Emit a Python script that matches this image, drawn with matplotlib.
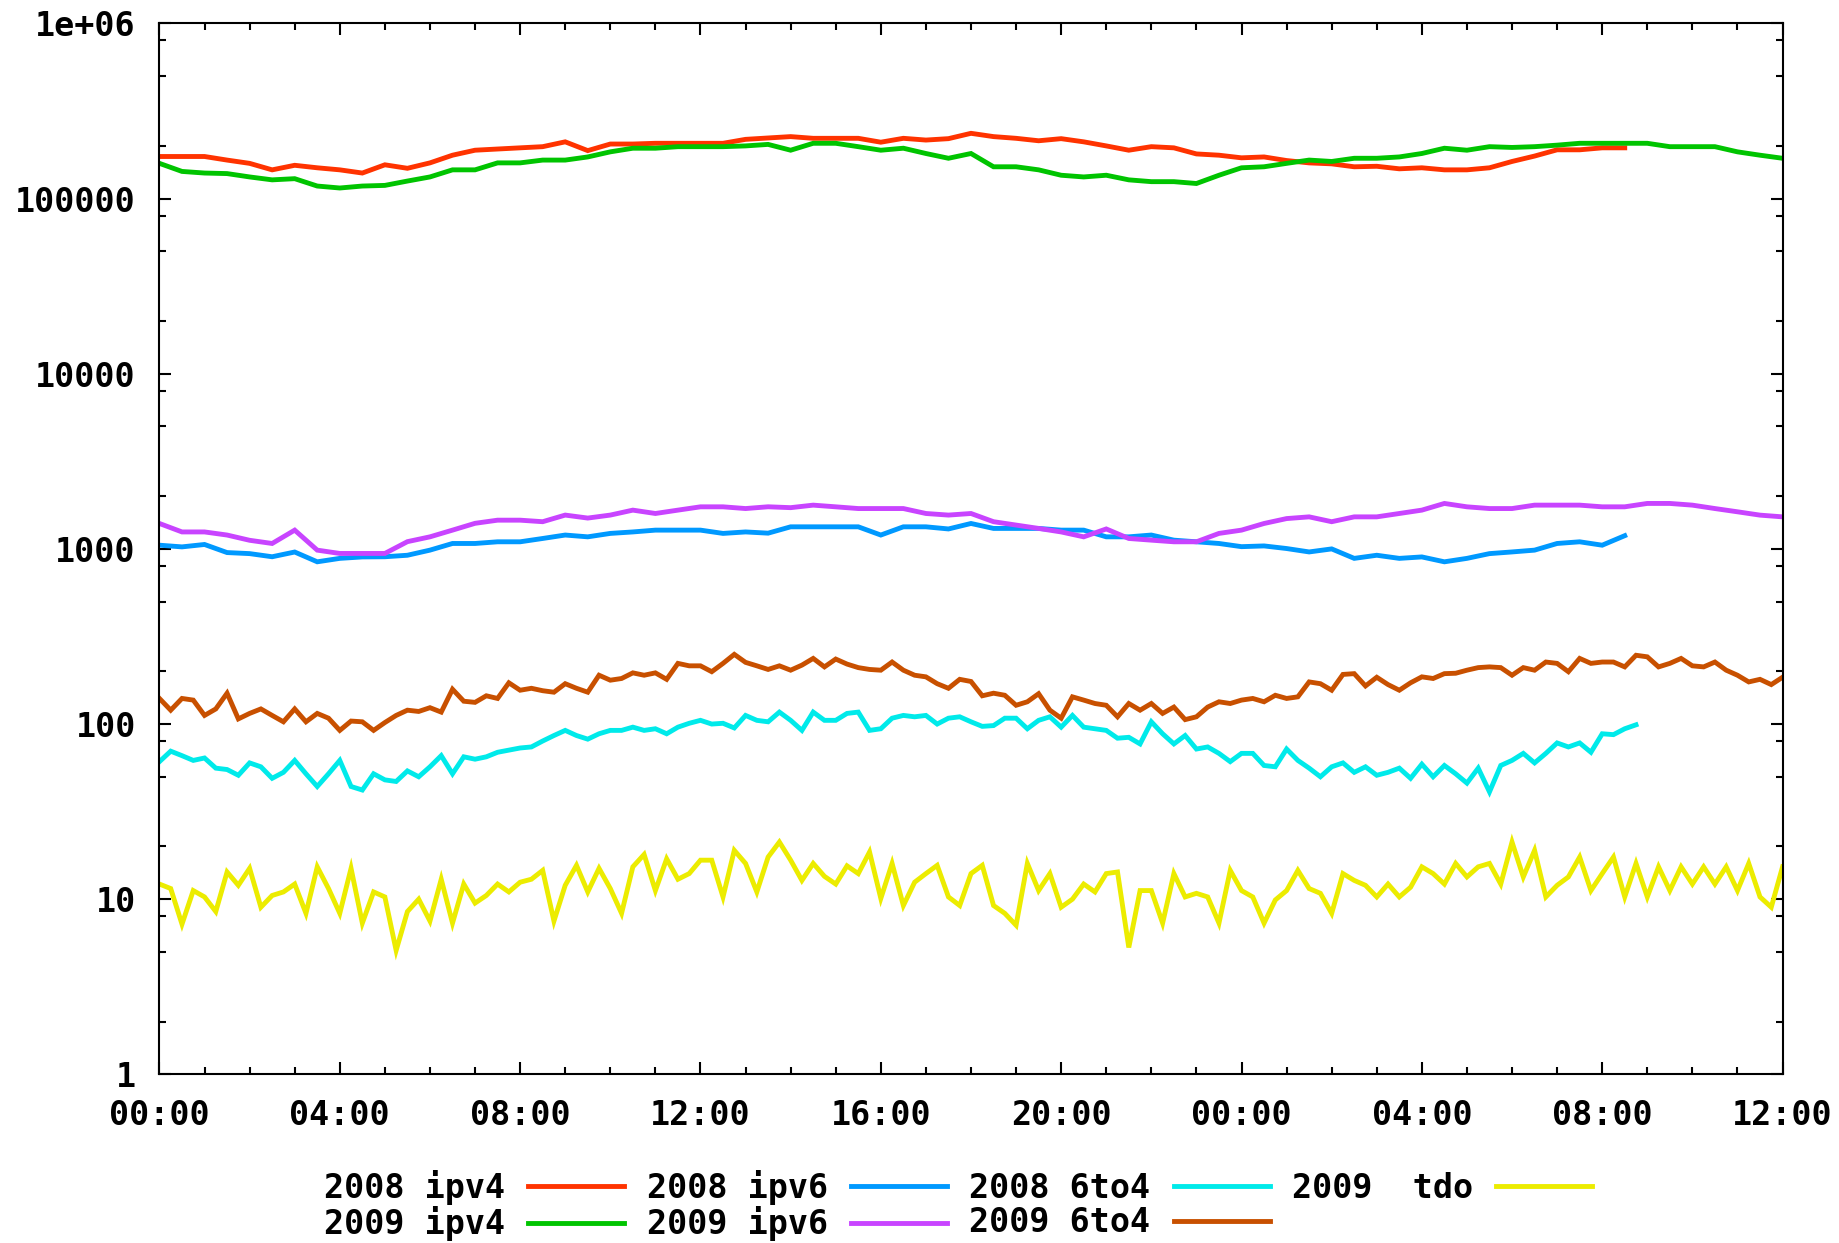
import numpy as np
import matplotlib
matplotlib.use("Agg")
import matplotlib.pyplot as plt
from matplotlib.ticker import FixedLocator, FixedFormatter, MultipleLocator, NullFormatter

# time axis: hours from 00:00 of day one to 12:00 of day two
# smooth series are read every 30 min, noisy ones every 15 min

# 2008 ipv4 (30 min steps, 00:00 .. 08:30 day two)
ipv4_2008 = [174000, 174000, 174000, 166000, 159000, 146000, 155000, 150000, 146000, 140000,
             156000, 149000, 160000, 177000, 189000, 192000, 195000, 198000, 211000, 188000,
             205000, 205000, 207000, 207000, 207000, 207000, 218000, 222000, 226000, 221000,
             221000, 221000, 210000, 221000, 216000, 220000, 236000, 226000, 221000, 214000,
             220000, 211000, 200000, 189000, 198000, 195000, 180000, 177000, 171000, 173000,
             165000, 160000, 158000, 152000, 153000, 148000, 150000, 146000, 146000, 150000,
             163000, 175000, 190000, 190000, 195000, 195000]

# 2009 ipv4 (30 min steps, full range)
ipv4_2009 = [159000, 143000, 140000, 139000, 133000, 128000, 130000, 118000, 115000, 118000,
             119000, 126000, 133000, 146000, 146000, 160000, 160000, 166000, 166000, 173000,
             185000, 194000, 194000, 198000, 198000, 198000, 200000, 204000, 189000, 207000,
             207000, 198000, 189000, 194000, 181000, 170000, 181000, 152000, 152000, 146000,
             136000, 133000, 136000, 128000, 125000, 125000, 122000, 136000, 150000, 152000,
             159000, 166000, 163000, 170000, 170000, 173000, 181000, 194000, 189000, 198000,
             196000, 198000, 202000, 207000, 207000, 207000, 207000, 198000, 198000, 198000,
             185000, 177000, 170000]

# 2008 ipv6 (30 min steps, 00:00 .. 08:30 day two)
ipv6_2008 = [1050, 1027, 1060, 953, 940, 902, 960, 844, 883, 900,
             902, 920, 984, 1074, 1074, 1098, 1098, 1147, 1200, 1172,
             1226, 1250, 1280, 1280, 1280, 1226, 1250, 1230, 1337, 1337,
             1337, 1337, 1200, 1337, 1337, 1300, 1397, 1309, 1309, 1309,
             1280, 1280, 1172, 1172, 1200, 1122, 1098, 1074, 1030, 1040,
             1005, 961, 1000, 883, 920, 883, 900, 844, 883, 940,
             961, 984, 1074, 1098, 1050, 1190]

# 2009 ipv6 (30 min steps, full range)
ipv6_2009 = [1397, 1250, 1250, 1200, 1120, 1074, 1280, 984, 942, 942,
             942, 1100, 1172, 1280, 1400, 1459, 1459, 1430, 1560, 1500,
             1560, 1665, 1593, 1665, 1739, 1739, 1700, 1740, 1720, 1778,
             1739, 1700, 1700, 1700, 1593, 1560, 1593, 1430, 1368, 1309,
             1250, 1172, 1300, 1147, 1122, 1098, 1098, 1226, 1280, 1397,
             1490, 1524, 1430, 1524, 1524, 1593, 1665, 1818, 1739, 1700,
             1700, 1778, 1778, 1778, 1739, 1739, 1818, 1818, 1778, 1700,
             1629, 1559, 1524]

# 2008 6to4 (15 min steps, 00:00 .. 08:45 day two)
sixto4_2008 = [61, 70, 66, 62, 64, 56, 55, 51, 60, 57, 49, 53, 62, 52, 44, 52,
               62, 44, 42, 52, 48, 47, 54, 50, 57, 66, 52, 65, 63, 65, 69, 71,
               73, 74, 80, 86, 92, 86, 82, 88, 92, 92, 96, 92, 94, 88, 96, 101,
               105, 100, 101, 95, 112, 105, 103, 117, 105, 92, 117, 105, 105, 115, 117, 92,
               94, 108, 112, 110, 112, 100, 108, 110, 103, 97, 98, 108, 108, 94, 105, 110,
               96, 112, 96, 94, 92, 83, 84, 77, 103, 88, 77, 86, 72, 74, 68, 61,
               68, 68, 58, 57, 72, 62, 56, 50, 57, 60, 53, 57, 51, 53, 56, 49,
               59, 50, 58, 52, 46, 56, 41, 58, 62, 68, 60, 68, 78, 74, 78, 69,
               88, 87, 94, 99]

# 2009 6to4 (15 min steps, full range)
sixto4_2009 = [140, 120, 140, 137, 112, 122, 150, 107, 115, 122, 112, 103, 122, 103, 115, 108,
               92, 104, 103, 92, 102, 112, 120, 118, 124, 117, 158, 135, 133, 145, 140, 172,
               156, 160, 155, 152, 170, 160, 152, 190, 178, 182, 196, 190, 196, 180, 222, 215,
               215, 199, 222, 250, 225, 215, 205, 215, 203, 217, 237, 212, 235, 220, 210, 205,
               203, 226, 203, 190, 186, 170, 160, 180, 175, 145, 150, 146, 128, 134, 149, 120,
               108, 143, 137, 131, 128, 110, 131, 120, 131, 115, 125, 106, 110, 125, 134, 131,
               137, 140, 134, 146, 140, 143, 174, 170, 156, 192, 194, 165, 185, 168, 156, 172,
               186, 182, 194, 195, 203, 210, 212, 210, 190, 210, 203, 226, 222, 199, 237, 222,
               226, 226, 212, 247, 242, 212, 222, 237, 215, 212, 226, 203, 190, 174, 180, 168,
               185]

# 2009 tdo (15 min steps, full range)
tdo_2009 = [12.2, 11.5, 7.2, 11.2, 10.3, 8.5, 14.3, 12.0, 15.0, 9.0, 10.5, 11.0, 12.2, 8.3, 15.3, 11.5,
            8.3, 15.0, 7.3, 11.0, 10.3, 5.1, 8.5, 10.0, 7.5, 13.0, 7.3, 12.2, 9.5, 10.5, 12.2, 11.0,
            12.5, 13.0, 14.6, 7.5, 12.0, 15.6, 11.0, 15.0, 11.5, 8.3, 15.3, 18.0, 11.2, 17.0, 13.0, 14.0,
            16.7, 16.7, 10.3, 19.0, 16.0, 11.0, 17.4, 21.2, 16.7, 12.8, 16.0, 13.5, 12.2, 15.5, 14.0, 18.6,
            10.1, 16.0, 9.2, 12.5, 14.0, 15.6, 10.3, 9.2, 14.0, 15.6, 9.2, 8.3, 7.1, 16.0, 11.2, 14.0,
            9.0, 10.0, 12.2, 11.0, 14.0, 14.3, 5.3, 11.2, 11.2, 7.3, 14.0, 10.3, 10.8, 10.3, 7.3, 14.6,
            11.2, 10.3, 7.3, 9.9, 11.2, 14.6, 11.5, 10.8, 8.3, 14.0, 12.8, 12.0, 10.3, 12.2, 10.3, 11.7,
            15.3, 14.0, 12.2, 16.0, 13.4, 15.3, 16.0, 12.2, 21.2, 13.4, 19.0, 10.3, 12.0, 13.4, 17.4, 11.2,
            14.0, 17.4, 10.3, 16.0, 10.3, 15.3, 11.2, 15.3, 12.2, 15.3, 12.2, 15.3, 11.2, 16.0, 10.3, 9.0,
            15.3]

labels = ["2008 ipv4", "2009 ipv4", "2008 ipv6", "2009 ipv6", "2008 6to4", "2009 6to4", "2009  tdo"]
colors = ["#ff3300", "#00c400", "#0099ff", "#c844ff", "#00eaea", "#c85000", "#ecec00"]
steps = [0.5, 0.5, 0.5, 0.5, 0.25, 0.25, 0.25]
series = [ipv4_2008, ipv4_2009, ipv6_2008, ipv6_2009, sixto4_2008, sixto4_2009, tdo_2009]
# drawing order like the original (2008 first, then 2009)
draw_order = [0, 2, 4, 6, 1, 3, 5]

plt.rcParams["font.family"] = ["DejaVu Sans Mono"]
plt.rcParams["font.weight"] = "bold"

fig = plt.figure(figsize=(18.39, 12.43), dpi=100)
ax = fig.add_axes([0.0867, 0.1357, 0.9693 - 0.0867, 0.9811 - 0.1357])

lines = {}
for i in draw_order:
    vals = np.array(series[i], dtype=float)
    t = np.arange(len(vals)) * steps[i]
    ln, = ax.plot(t, vals, color=colors[i], lw=3.5, label=labels[i], solid_joinstyle="miter")
    lines[i] = ln

ax.set_yscale("log")
ax.set_ylim(1, 1e6)
ax.set_xlim(0, 36)

# y ticks: decades, minor at 2, 5, 8
decades = [1, 10, 100, 1000, 10000, 100000, 1000000]
ylabels = ["1", "10", "100", "1000", "10000", "100000", "1e+06"]
ax.yaxis.set_major_locator(FixedLocator(decades))
ax.yaxis.set_major_formatter(FixedFormatter(ylabels))
ax.yaxis.set_minor_locator(FixedLocator([m * d for d in decades[:-1] for m in (2, 5, 8)]))
ax.yaxis.set_minor_formatter(NullFormatter())

# x ticks every 4 h, minor every hour
xt = list(range(0, 37, 4))
ax.xaxis.set_major_locator(FixedLocator(xt))
ax.xaxis.set_major_formatter(FixedFormatter(["%02d:00" % (h % 24) for h in xt]))
ax.xaxis.set_minor_locator(MultipleLocator(1))

ax.tick_params(which="both", direction="in", top=True, right=True, width=1.5, colors="black")
ax.tick_params(which="major", length=8.6, labelsize=24)
ax.tick_params(which="minor", length=5)
ax.tick_params(axis="x", which="major", pad=18)
ax.tick_params(axis="y", which="major", pad=17)
for s in ax.spines.values():
    s.set_linewidth(1.5)

handles = [lines[i] for i in range(7)]
fig.legend(handles, labels, loc="lower center", bbox_to_anchor=(0.521, -0.012), ncol=4,
           frameon=False, markerfirst=False, handlelength=2.88, handletextpad=0.69,
           columnspacing=0.68, labelspacing=0.05, fontsize=24, borderpad=0.0)

fig.savefig("out.png", dpi=100)
